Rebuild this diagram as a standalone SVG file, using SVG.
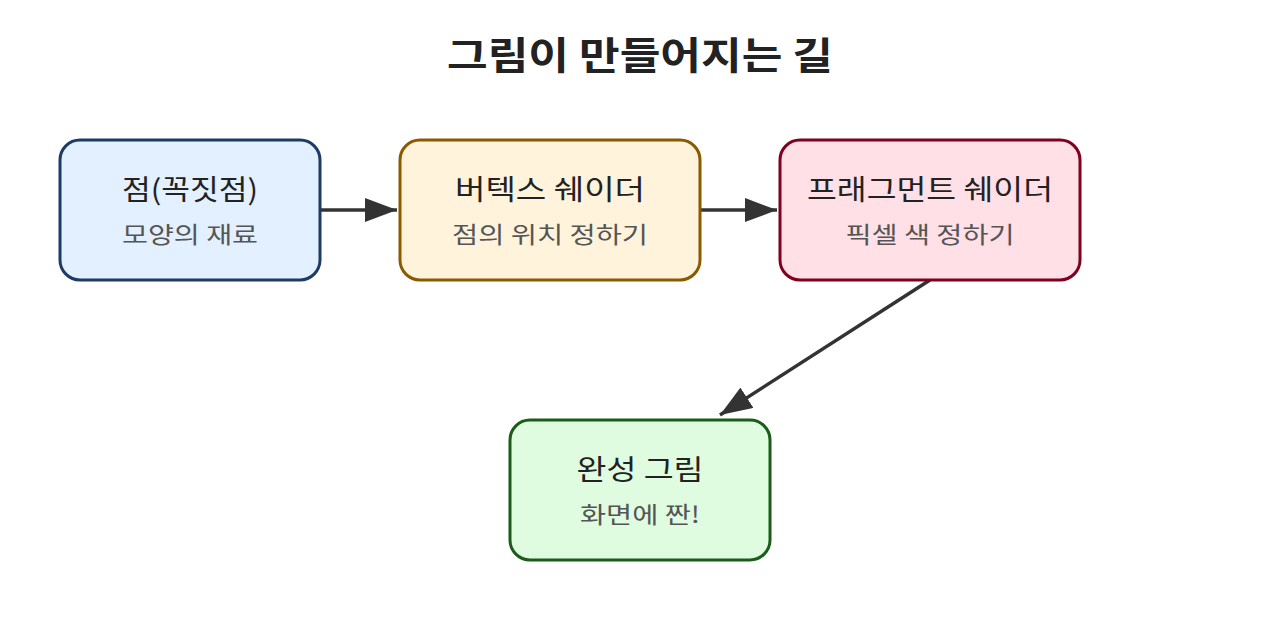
<svg xmlns="http://www.w3.org/2000/svg" width="1280" height="640" viewBox="0 0 1280 640">
<style>
.t{font-family:"Noto Sans CJK KR","Noto Sans",sans-serif;text-anchor:middle}
.title{font-size:38px;font-weight:bold;fill:#222}
.h{font-size:28px;fill:#222}
.s{font-size:23px;fill:#555}
.box{stroke-width:3}
.edge{stroke:#333;stroke-width:3.5;fill:none}
</style>
<defs>
<marker id="a" viewBox="0 0 32 24" refX="32" refY="12" markerWidth="32" markerHeight="24" markerUnits="userSpaceOnUse" orient="auto">
<path d="M0,0 L32,12 L0,24 z" fill="#333"/>
</marker>
</defs>
<rect width="1280" height="640" fill="#fff"/>
<text class="t title" x="640" y="69" textLength="386" lengthAdjust="spacingAndGlyphs">그림이 만들어지는 길</text>
<g id="connectors">
<line class="edge" x1="320" y1="210" x2="397" y2="210" marker-end="url(#a)"/>
<line class="edge" x1="700" y1="210" x2="777" y2="210" marker-end="url(#a)"/>
<line class="edge" x1="930" y1="280" x2="720" y2="415" marker-end="url(#a)"/>
</g>
<g id="n1">
<rect class="box" x="60" y="140" width="260" height="140" rx="20" fill="#e3f0ff" stroke="#1e3a66"/>
<text class="t h" x="190" y="200" textLength="136" lengthAdjust="spacingAndGlyphs">점(꼭짓점)</text>
<text class="t s" x="190" y="243" textLength="136" lengthAdjust="spacingAndGlyphs">모양의 재료</text>
</g>
<g id="n2">
<rect class="box" x="400" y="140" width="300" height="140" rx="20" fill="#fff3dc" stroke="#8a5a00"/>
<text class="t h" x="550" y="200" textLength="190" lengthAdjust="spacingAndGlyphs">버텍스 쉐이더</text>
<text class="t s" x="550" y="243" textLength="196" lengthAdjust="spacingAndGlyphs">점의 위치 정하기</text>
</g>
<g id="n3">
<rect class="box" x="780" y="140" width="300" height="140" rx="20" fill="#ffe0e6" stroke="#800020"/>
<text class="t h" x="930" y="200" textLength="246" lengthAdjust="spacingAndGlyphs">프래그먼트 쉐이더</text>
<text class="t s" x="930" y="243" textLength="169" lengthAdjust="spacingAndGlyphs">픽셀 색 정하기</text>
</g>
<g id="n4">
<rect class="box" x="510" y="420" width="260" height="140" rx="20" fill="#e0fce0" stroke="#1a5c1a"/>
<text class="t h" x="640" y="480" textLength="127" lengthAdjust="spacingAndGlyphs">완성 그림</text>
<text class="t s" x="640" y="523" textLength="120" lengthAdjust="spacingAndGlyphs">화면에 짠!</text>
</g>
</svg>
